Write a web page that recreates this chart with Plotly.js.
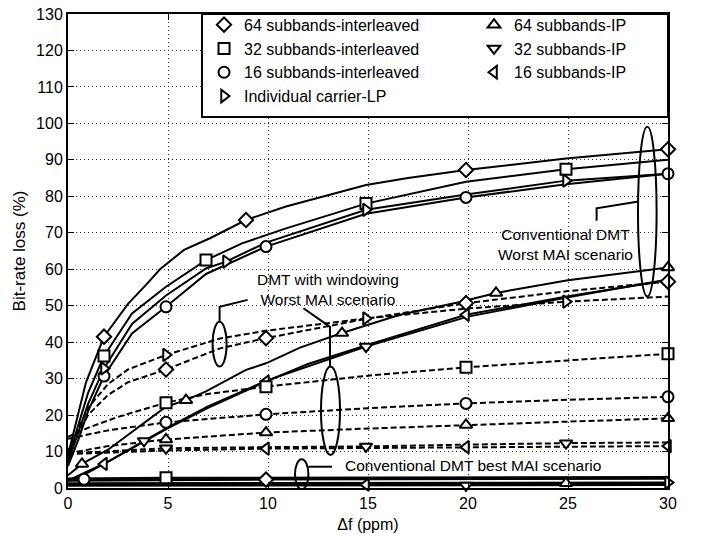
<!DOCTYPE html>
<html><head><meta charset="utf-8">
<script src="https://cdn.plot.ly/plotly-3.0.1.min.js"></script>
<style>html,body{margin:0;padding:0;background:#fff}#chart{width:709px;height:539px}</style>
</head><body><div id="chart"></div>
<script>
// ---------- tick labels ----------
const xTicks = [0, 5, 10, 15, 20, 25, 30];
const xTickText = ['0', '5', '10', '15', '20', '25', '30'];
const yTicks = [0, 10, 20, 30, 40, 50, 60, 70, 80, 90, 100, 110, 120, 130];

// ---------- Conventional DMT, worst MAI (solid) ----------
const c64iX = [0, 0.5, 0.9, 1.8, 3, 3.9, 4.6, 5.8, 7.1, 8.9, 10.9, 14.9, 17, 19.9, 24.9, 30];
const c64iY = [9, 20, 29, 41.5, 50.5, 55.7, 60, 65.3, 68.5, 73.5, 77.2, 83.1, 85, 87.2, 90.4, 92.9];
const c64iMk = [3, 9, 13, 15];

const c32iX = [0, 0.5, 1, 1.8, 3.2, 4.9, 6.9, 8.7, 10.9, 14.9, 19.9, 24.9, 30];
const c32iY = [8, 17, 26, 36.2, 47.9, 55.2, 62.5, 67.1, 71.2, 78, 84, 87.4, 90];
const c32iMk = [3, 6, 9, 11];

const c16iX = [0, 0.5, 1, 1.8, 3.2, 4.9, 6.9, 9.9, 14.9, 19.9, 24.9, 30];
const c16iY = [6, 13, 21, 30.7, 42.4, 49.7, 58.7, 66.2, 75.2, 79.7, 83.3, 86.2];
const c16iMk = [3, 5, 7, 9, 11];

const cLPX = [0, 0.5, 1, 1.8, 3.2, 4.9, 6.9, 7.9, 9.9, 14.9, 19.9, 24.9, 30];
const cLPY = [7, 15, 23, 32.8, 45, 52.8, 60.2, 62.1, 67.3, 76.3, 80.5, 84.3, 86.2];
const cLPMk = [3, 7, 9, 11];

const c64ipX = [0, 0.7, 2, 3.8, 4.9, 5.9, 6.9, 8.9, 9.9, 11.6, 13.7, 16.6, 19.6, 21.4, 25, 30];
const c64ipY = [3.5, 6.6, 10.5, 17.7, 22.3, 24.1, 26.5, 32.4, 34.2, 38.5, 42.5, 47.5, 51, 53.5, 57, 60.5];
const c64ipMk = [1, 5, 10, 13, 15];

const c32ipX = [0, 1, 2, 3.8, 5, 7, 10, 14.9, 20, 25, 30];
const c32ipY = [2, 4.5, 7.2, 12.9, 16.6, 22.4, 29.6, 38.8, 47, 52.3, 57.2];
const c32ipMk = [3, 7];

const c16ipX = [0, 1, 1.8, 3, 5, 7, 9.9, 12, 15, 19.9, 25, 30];
const c16ipY = [2, 4.2, 6.6, 10.3, 16.4, 22, 29.2, 34, 39.3, 47.5, 52.6, 57];
const c16ipMk = [2, 6, 9];

// ---------- DMT with windowing, worst MAI (dashed) ----------
const w64iX = [0, 0.5, 1, 2, 3, 4.9, 7.6, 9.9, 15, 19.9, 25, 30];
const w64iY = [10, 15, 20, 25.5, 29, 32.5, 38.3, 41.1, 46.5, 50.7, 54, 56.6];
const w64iMk = [5, 7, 9, 11];

const wLPX = [0, 0.5, 1, 2, 3, 4.9, 7.6, 10, 14.9, 19.9, 24.9, 30];
const wLPY = [10, 16, 22, 28.5, 32.5, 36.5, 41, 43.2, 46.5, 49.2, 51.1, 52.5];
const wLPMk = [5, 8, 10];

const w32iX = [0, 1, 2.5, 4.9, 7, 9.9, 15, 19.9, 25, 30];
const w32iY = [14, 16.5, 19.5, 23.4, 25.8, 27.8, 30.8, 33.1, 35, 36.8];
const w32iMk = [3, 5, 7, 9];

const w16iX = [0, 2, 4.9, 9.9, 15, 19.9, 25, 30];
const w16iY = [13.5, 15.8, 18, 20.2, 21.9, 23.2, 24.2, 25];
const w16iMk = [2, 3, 5, 7];

const w64ipX = [0, 2, 4.9, 9.9, 15, 19.9, 25, 30];
const w64ipY = [9.5, 11.5, 13.3, 15.2, 16.3, 17.3, 18.2, 19.1];
const w64ipMk = [2, 3, 5, 7];

const w32ipX = [0, 4.9, 10, 14.9, 20, 24.9, 30];
const w32ipY = [9.5, 10.9, 11.2, 11.4, 11.9, 12.3, 12.5];
const w32ipMk = [1, 3, 5];

const w16ipX = [0, 4.9, 9.9, 19.9, 30];
const w16ipY = [9.3, 10.3, 10.8, 11.2, 11.5];
const w16ipMk = [2, 3, 4];

// ---------- Conventional DMT, best MAI (solid, bottom) ----------
const b16iX = [0, 0.8, 30];   const b16iY = [2.3, 2.4, 2.6];   const b16iMk = [1];
const b32iX = [0, 4.9, 30];   const b32iY = [2.6, 2.8, 3.0];   const b32iMk = [1];
const b64iX = [0, 9.9, 30];   const b64iY = [2.0, 2.3, 2.6];   const b64iMk = [1];
const b16ipX = [0, 14.9, 30]; const b16ipY = [0.8, 0.9, 1.0];  const b16ipMk = [1];
const b32ipX = [0, 19.9, 30]; const b32ipY = [0.6, 0.7, 0.8];  const b32ipMk = [1];
const b64ipX = [0, 24.9, 30]; const b64ipY = [1.1, 1.3, 1.4];  const b64ipMk = [1];
const bLPX = [0, 30];         const bLPY = [1.3, 1.5];         const bLPMk = [1];

// ---------- legend names ----------
const names = {
  i64: '64 subbands-interleaved', i32: '32 subbands-interleaved', i16: '16 subbands-interleaved',
  lp: 'Individual carrier-LP', ip64: '64 subbands-IP', ip32: '32 subbands-IP', ip16: '16 subbands-IP'
};

const FONT = 'Arial, "Liberation Sans", sans-serif';
const symbols = {i64:'diamond', i32:'square', i16:'circle', lp:'triangle-right', ip64:'triangle-up', ip32:'triangle-down', ip16:'triangle-left'};
const msize = {i64:11, i32:11, i16:11, lp:11, ip64:11, ip32:11, ip16:11};
const legendRank = {i64:1, ip64:2, i32:3, ip32:4, i16:5, ip16:6, lp:7};
const legendW = {i64:225, i32:225, i16:225, lp:225, ip64:150, ip32:150, ip16:150};

const series = [
  {k:'i64', x:c64iX, y:c64iY, mk:c64iMk, dash:'solid', leg:true},
  {k:'i32', x:c32iX, y:c32iY, mk:c32iMk, dash:'solid', leg:true},
  {k:'i16', x:c16iX, y:c16iY, mk:c16iMk, dash:'solid', leg:true},
  {k:'lp', x:cLPX, y:cLPY, mk:cLPMk, dash:'solid', leg:true},
  {k:'ip64', x:c64ipX, y:c64ipY, mk:c64ipMk, dash:'solid', leg:true},
  {k:'ip32', x:c32ipX, y:c32ipY, mk:c32ipMk, dash:'solid', leg:true},
  {k:'ip16', x:c16ipX, y:c16ipY, mk:c16ipMk, dash:'solid', leg:true},
  {k:'i64', x:w64iX, y:w64iY, mk:w64iMk, dash:'6px,3px'},
  {k:'lp', x:wLPX, y:wLPY, mk:wLPMk, dash:'6px,3px'},
  {k:'i32', x:w32iX, y:w32iY, mk:w32iMk, dash:'6px,3px'},
  {k:'i16', x:w16iX, y:w16iY, mk:w16iMk, dash:'6px,3px'},
  {k:'ip64', x:w64ipX, y:w64ipY, mk:w64ipMk, dash:'6px,3px'},
  {k:'ip32', x:w32ipX, y:w32ipY, mk:w32ipMk, dash:'6px,3px'},
  {k:'ip16', x:w16ipX, y:w16ipY, mk:w16ipMk, dash:'6px,3px'},
  {k:'i16', x:b16iX, y:b16iY, mk:b16iMk, dash:'solid'},
  {k:'i32', x:b32iX, y:b32iY, mk:b32iMk, dash:'solid'},
  {k:'i64', x:b64iX, y:b64iY, mk:b64iMk, dash:'solid'},
  {k:'ip16', x:b16ipX, y:b16ipY, mk:b16ipMk, dash:'solid'},
  {k:'ip32', x:b32ipX, y:b32ipY, mk:b32ipMk, dash:'solid'},
  {k:'ip64', x:b64ipX, y:b64ipY, mk:b64ipMk, dash:'solid'},
  {k:'lp', x:bLPX, y:bLPY, mk:bLPMk, dash:'solid'}
];

const traces = [];
series.forEach(s => {
  traces.push({type:'scatter', mode:'lines', x:s.x, y:s.y, showlegend:false, hoverinfo:'skip',
    line:{color:'#000', width:2, dash:s.dash}});
});
series.forEach(s => {
  traces.push({type:'scatter', mode:'markers', x:s.mk.map(i => s.x[i]), y:s.mk.map(i => s.y[i]),
    name:names[s.k], showlegend:!!s.leg, legendrank:legendRank[s.k], legendwidth:legendW[s.k],
    cliponaxis:false,
    marker:{symbol:symbols[s.k], size:msize[s.k], color:'#fff', line:{color:'#000', width:2}}});
});

const shapeLine = {color:'#000', width:2};
const shapes = [
  {type:'circle', xref:'x', yref:'y', x0:28.5, x1:29.43, y0:52.5, y1:99.1, line:shapeLine},
  {type:'path', xref:'x', yref:'y', path:'M 28.45 78.5 L 26.43 76.7 L 26.43 73.3', line:shapeLine},
  {type:'circle', xref:'x', yref:'y', x0:7.23, x1:7.93, y0:33.3, y1:45.6, line:shapeLine},
  {type:'path', xref:'x', yref:'y', path:'M 7.58 45.6 L 7.58 49.7 L 8.98 51.6', line:shapeLine},
  {type:'path', xref:'x', yref:'y', path:'M 11.77 49.3 L 13.1 44.2 L 13.1 33.3', line:shapeLine},
  {type:'circle', xref:'x', yref:'y', x0:12.65, x1:13.6, y0:9.05, y1:33.3, line:shapeLine},
  {type:'circle', xref:'x', yref:'y', x0:11.35, x1:12.02, y0:-0.36, y1:7.87, line:shapeLine},
  {type:'path', xref:'x', yref:'y', path:'M 12.02 5.84 L 13.2 5.84', line:shapeLine},
  // legend frame
  {type:'rect', xref:'paper', yref:'paper', x0:0.2233, x1:1, y0:0.7827, y1:1, layer:'above',
    fillcolor:'#fff', line:{color:'#000', width:2}}
];

const annFont = {family:FONT, size:15.5, color:'#000'};
const annotations = [
  {xref:'x', yref:'y', x:24.85, y:66.9, text:'Conventional DMT<br>Worst MAI scenario', showarrow:false, font:annFont, align:'center'},
  {xref:'x', yref:'y', x:13.0, y:54.4, text:'DMT with windowing<br>Worst MAI scenario', showarrow:false, font:annFont, align:'center'},
  {xref:'x', yref:'y', x:13.75, y:6.3, xanchor:'left', text:'Conventional DMT best MAI scenario', showarrow:false, font:annFont}
];

const axisCommon = {
  showline:true, linecolor:'#000', linewidth:2, mirror:'ticks',
  ticks:'inside', ticklen:6, tickwidth:1, tickcolor:'#000',
  showgrid:true, gridcolor:'#333', gridwidth:1, griddash:'1px,3px',
  zeroline:false, tickfont:{family:FONT, size:16, color:'#000'}
};

const layout = {
  width:709, height:539,
  margin:{l:68, r:41, t:14, b:51, autoexpand:false},
  paper_bgcolor:'#fff', plot_bgcolor:'#fff',
  font:{family:FONT, color:'#000'},
  xaxis:Object.assign({}, axisCommon, {range:[0,30], tickmode:'array', tickvals:xTicks, ticktext:xTickText,
    title:{text:'Δf (ppm)', font:{family:FONT, size:16, color:'#000'}, standoff:8}}),
  yaxis:Object.assign({}, axisCommon, {range:[0,130], tickmode:'array', tickvals:yTicks,
    title:{text:'Bit-rate loss (%)', font:{family:FONT, size:17, color:'#000'}, standoff:6}}),
  showlegend:true,
  legend:{orientation:'h', x:0.2267, y:1.0132, xanchor:'left', yanchor:'top',
    bgcolor:'rgba(0,0,0,0)', borderwidth:0,
    font:{family:FONT, size:16, color:'#000'}, itemwidth:30, traceorder:'normal'},
  shapes:shapes,
  annotations:annotations
};

Plotly.newPlot('chart', traces, layout, {staticPlot:true, displayModeBar:false});
</script></body></html>
